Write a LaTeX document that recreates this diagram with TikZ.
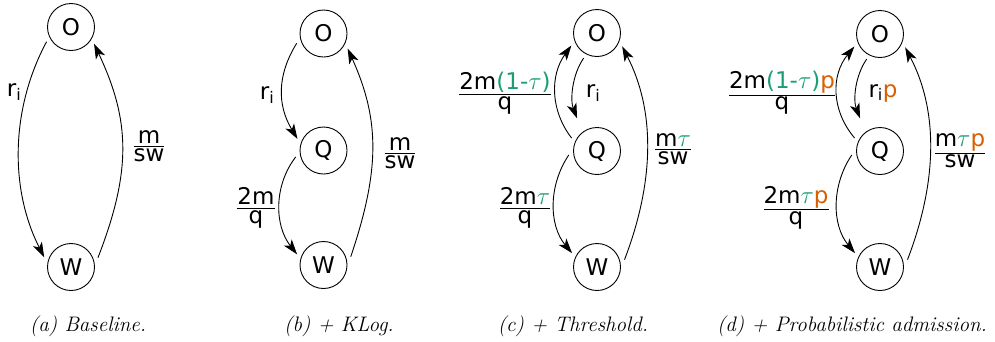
\documentclass[tikz,border=0pt]{standalone}
\usepackage{amsmath}
\usepackage{fontspec}
\newfontfamily\dejavu{DejaVu Sans}
\usetikzlibrary{arrows.meta}
\definecolor{tgreen}{HTML}{1B9E77}
\definecolor{torange}{HTML}{D95F02}
\newcommand{\gt}{\textcolor{tgreen}{$\tau$}}
\newcommand{\op}{\textcolor{torange}{p}}
\newcommand{\fr}[2]{$\frac{\mbox{#1}}{\mbox{#2}\vphantom{2}}$}
\tikzset{
  state/.style={circle, draw, line width=0.9pt, minimum size=47pt, inner sep=0pt, outer sep=5pt,
    font=\dejavu\fontsize{23}{27}\selectfont},
  lbl/.style={inner sep=0pt, font=\dejavu\fontsize{23}{27}\selectfont},
  captext/.style={anchor=base, font=\fontsize{21}{25}\selectfont\itshape},
  flow/.style={line width=0.9pt, -{Stealth[length=15pt,width=10pt,inset=4pt]}},
}
\begin{document}
\begin{tikzpicture}[x=1pt,y=-1pt]
\path[use as bounding box, fill=white] (0,0) rectangle (995,341);
% (a)
\node[state] (Oa) at (71,27) {O};
\node[state] (Wa) at (71,267) {W};
\draw[flow] (Oa.211) .. controls (10,110) and (10,190) .. (Wa.160);
\draw[flow] (Wa.19) .. controls (132,170) and (130,120) .. (Oa.-36);
\node[lbl] (la1) at (14,92) {r$_{\mbox{\fontsize{16}{18}\selectfont i}}$};
\node[lbl] (la2) at (149,146) {\fr{m}{sw}};
\node[captext] (ca) at (88,331) {(a) Baseline.};
% (b)
\node[state] (Ob) at (323.5,33.5) {O};
\node[state] (Qb) at (323.5,150.5) {Q};
\node[state] (Wb) at (323.5,265) {W};
\draw[flow] (Ob.200) .. controls (277,75) and (277,105) .. (Qb.156);
\draw[flow] (Qb.193) .. controls (274,185) and (274,225) .. (Wb.158);
\draw[flow] (Wb.17) .. controls (380,170) and (380,120) .. (Ob.-32);
\node[lbl] (lb1) at (267,95) {r$_{\mbox{\fontsize{16}{18}\selectfont i}}$};
\node[lbl] (lb2) at (256,208) {\fr{2m}{q}};
\node[lbl] (lb3) at (400,153) {\fr{m}{sw}};
\node[captext] (cb) at (339,331) {(b) + KLog.};
% (c)
\node[state] (Oc) at (597,33) {O};
\node[state] (Qc) at (597,151) {Q};
\node[state] (Wc) at (597,267) {W};
\draw[flow] (Qc.153) .. controls (550,110) and (550,75) .. (Oc.206);
\draw[flow, shorten >=10pt] (Oc.242) .. controls (572,75) and (570,100) .. (Qc.125);
\draw[flow] (Qc.188) .. controls (548.5,185) and (548.5,225) .. (Wc.151);
\draw[flow] (Wc.15) .. controls (655,180) and (655,110) .. (Oc.-28);
\node[lbl] (lc1) at (505,93) {\fr{2m\textcolor{tgreen}{(1-$\tau$)}}{q}};
\node[lbl] (lc2) at (593,93) {r$_{\mbox{\fontsize{16}{18}\selectfont i}}$};
\node[lbl] (lc3) at (525,208) {\fr{2m\gt}{q}};
\node[lbl] (lc4) at (673,149) {\fr{m\gt}{sw}};
\node[captext] (cc) at (573,331) {(c) + Threshold.};
% (d)
\node[state] (Od) at (880,34) {O};
\node[state] (Qd) at (880,151) {Q};
\node[state] (Wd) at (880,267) {W};
\draw[flow] (Qd.153) .. controls (831,110) and (831,75) .. (Od.206);
\draw[flow, shorten >=10pt] (Od.242) .. controls (855,76) and (853,100) .. (Qd.125);
\draw[flow] (Qd.188) .. controls (831.5,185) and (831.5,225) .. (Wd.151);
\draw[flow] (Wd.15) .. controls (938,180) and (938,110) .. (Od.-28);
\node[lbl] (ld1) at (782,93) {\fr{2m\textcolor{tgreen}{(1-$\tau$)}\op}{q}};
\node[lbl] (ld2) at (883,93) {r$_{\mbox{\fontsize{16}{18}\selectfont i}}$\op};
\node[lbl] (ld3) at (796,208) {\fr{2m\gt\op}{q}};
\node[lbl] (ld4) at (960,151) {\fr{m\gt\op}{sw}};
\node[captext] (cd) at (852,331) {(d) + Probabilistic admission.};
\end{tikzpicture}
\end{document}
